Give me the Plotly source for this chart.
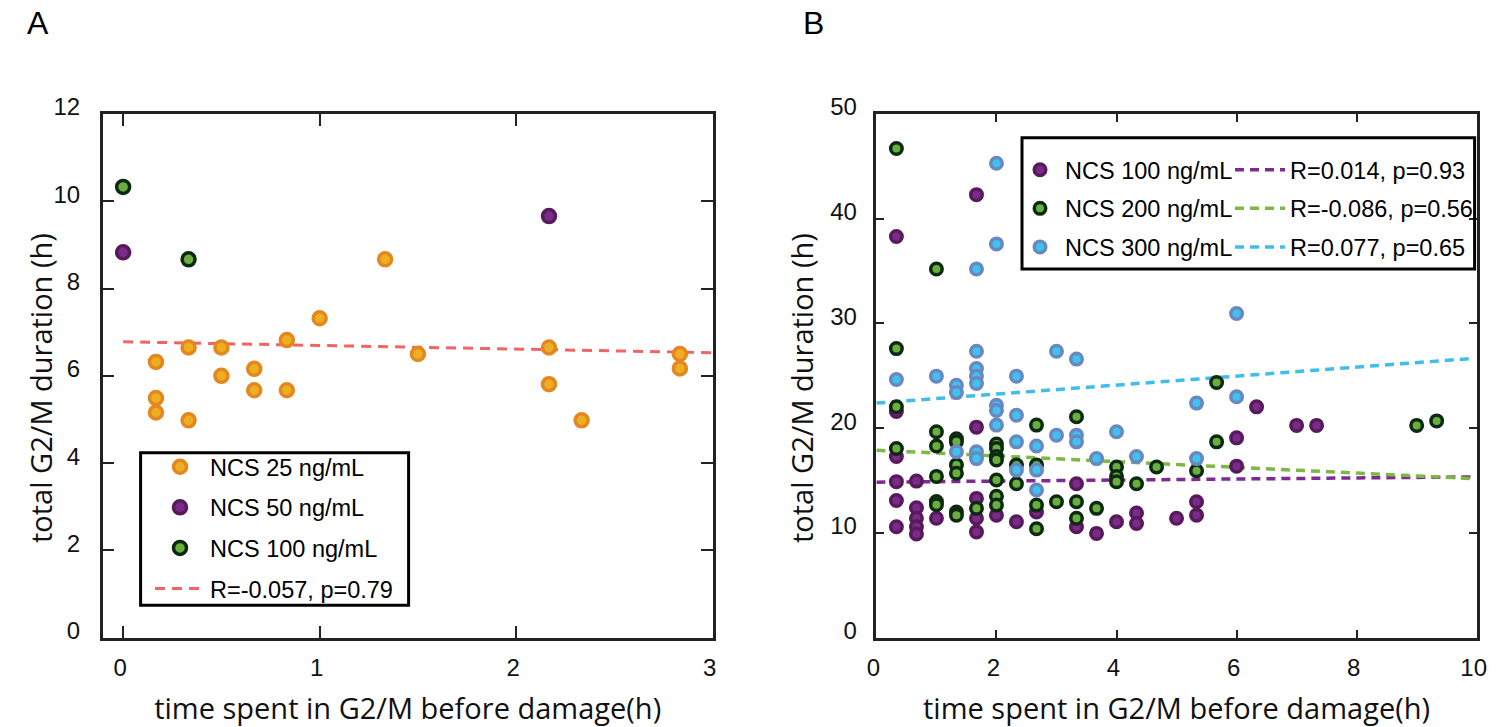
import plotly.graph_objects as go

W, H = 1499, 727

# ---------------- Panel A data ----------------
a25_x = [0.167, 0.167, 0.167, 0.333, 0.333, 0.5, 0.5, 0.667, 0.667, 0.833, 0.833,
         1.0, 1.333, 1.5, 2.167, 2.167, 2.333, 2.833, 2.833]
a25_y = [6.32, 5.49, 5.16, 6.65, 4.98, 6.65, 6.0, 6.16, 5.67, 6.82, 5.67,
         7.32, 8.67, 6.5, 6.65, 5.81, 4.98, 6.5, 6.17]
a50_x = [0.0, 2.167]
a50_y = [8.83, 9.66]
a100_x = [0.0, 0.333]
a100_y = [10.33, 8.67]
a_fit_x = [0.0, 3.0]
a_fit_y = [6.78, 6.53]

# ---------------- Panel B data ----------------
b100_x = [0.333, 1.667, 0.333, 0.333, 0.333, 0.333, 0.333,
          0.667, 0.667, 0.667, 0.667, 0.667, 1.0,
          1.667, 1.667, 1.667, 1.667, 2.0, 2.333, 2.667,
          3.333, 3.333, 3.667, 4.0, 4.333, 4.333, 5.0,
          5.333, 5.333, 6.0, 6.0, 6.333, 7.0, 7.333]
b100_y = [38.3, 42.3, 21.6, 17.3, 14.9, 13.1, 10.6,
          14.95, 12.4, 11.4, 10.6, 9.9, 11.4,
          20.1, 13.3, 11.4, 10.1, 11.7, 11.07, 12.0,
          14.7, 10.6, 9.96, 11.07, 11.9, 10.9, 11.4,
          12.98, 11.7, 19.08, 16.38, 22.04, 20.27, 20.27]

b200_x = [0.333, 1.0, 0.333, 0.333, 0.333,
          1.0, 1.0, 1.0, 1.0, 1.0,
          1.333, 1.333, 1.333, 1.333, 1.333, 1.333,
          1.667, 2.0, 2.0, 2.0, 2.0, 2.0, 2.0, 2.0,
          2.333, 2.333, 2.667, 2.667, 2.667, 2.667,
          3.0, 3.333, 3.333, 3.333, 3.667,
          4.0, 4.0, 4.0, 4.333, 4.667, 5.333,
          5.667, 5.667, 9.0, 9.333]
b200_y = [46.7, 35.2, 27.6, 22.05, 18.07,
          19.66, 18.3, 15.4, 13.0, 12.7,
          19.0, 18.7, 16.5, 15.7, 12.0, 11.7,
          12.35, 18.5, 18.07, 17.3, 16.96, 15.05, 13.5, 12.66,
          16.5, 14.7, 20.3, 16.5, 12.66, 10.4,
          12.98, 21.1, 12.98, 11.4, 12.35,
          16.3, 15.4, 14.9, 14.7, 16.3, 15.94,
          24.37, 18.7, 20.27, 20.7]

b300_x = [2.0, 2.0, 1.667, 6.0,
          1.667, 3.0, 3.333,
          0.333, 1.0, 1.333, 1.333, 1.667, 1.667, 1.667, 2.333,
          2.0, 2.0, 2.0, 2.333, 2.333, 2.333,
          1.333, 1.667, 1.667, 2.667, 2.667, 2.667,
          3.0, 3.333, 3.333, 3.667, 4.0, 4.333,
          5.333, 6.0, 5.333]
b300_y = [45.3, 37.6, 35.2, 30.95,
          27.35, 27.35, 26.6,
          24.65, 24.97, 24.1, 23.4, 25.7, 24.97, 24.27, 24.97,
          22.2, 21.7, 20.3, 21.25, 18.7, 16.0,
          17.75, 17.75, 17.1, 18.3, 16.0, 14.1,
          19.34, 19.34, 18.7, 17.1, 19.66, 17.3,
          22.4, 23.0, 17.1]

b_fit_x = [0.0, 9.9]
b100_fit_y = [14.85, 15.35]
b200_fit_y = [17.9, 15.2]
b300_fit_y = [22.4, 26.65]

# ---------------- styles ----------------
ORANGE = dict(fill="#ECAE22", edge="#E4871E")
PURPLE = dict(fill="#7A2A88", edge="#571A5A")
GREEN = dict(fill="#6AAE3E", edge="#0C2A12")
BLUE = dict(fill="#3EC2EE", edge="#6A88C0")

TICK_FONT = dict(family="Liberation Sans, Arial, sans-serif", size=24, color="#111")
TITLE_FONT = dict(family="Open Sans, sans-serif", size=29, color="#111")
LEG_FONT = dict(family="Liberation Sans, Arial, sans-serif", size=23.5, color="#000")


def dots(x, y, col, name, xa, ya, legend, size, lw, rank):
    return go.Scatter(
        x=x, y=y, mode="markers", name=name, xaxis=xa, yaxis=ya,
        legend=legend, legendgroup=name + legend, legendrank=rank,
        marker=dict(size=size, color=col["fill"], line=dict(color=col["edge"], width=lw)),
        hoverinfo="x+y",
    )


def fit(x, y, color, name, xa, ya, legend, dash, width, rank):
    return go.Scatter(
        x=x, y=y, mode="lines", name=name, xaxis=xa, yaxis=ya,
        legend=legend, legendgroup=name + legend, legendrank=rank,
        line=dict(color=color, width=width, dash=dash),
        hoverinfo="skip",
    )


fig = go.Figure()

# Panel A: fit line under the dots
fig.add_trace(fit(a_fit_x, a_fit_y, "#F26464", "R=-0.057, p=0.79", "x", "y",
                  "legend", "10px,7px", 3, 4))
fig.add_trace(dots(a25_x, a25_y, ORANGE, "NCS 25 ng/mL", "x", "y", "legend", 13, 3.5, 1))
fig.add_trace(dots(a50_x, a50_y, PURPLE, "NCS 50 ng/mL", "x", "y", "legend", 13, 3.5, 2))
fig.add_trace(dots(a100_x, a100_y, GREEN, "NCS 100 ng/mL", "x", "y", "legend", 13, 3.5, 3))

# Panel B
fig.add_trace(fit(b_fit_x, b100_fit_y, "#7E2A90", "R=0.014, p=0.93", "x2", "y2",
                  "legend3", "9px,6px", 3.5, 1))
fig.add_trace(fit(b_fit_x, b200_fit_y, "#7DB843", "R=-0.086, p=0.56", "x2", "y2",
                  "legend3", "9px,6px", 3.5, 2))
fig.add_trace(fit(b_fit_x, b300_fit_y, "#40BDEB", "R=0.077, p=0.65", "x2", "y2",
                  "legend3", "9px,6px", 3.5, 3))
fig.add_trace(dots(b100_x, b100_y, PURPLE, "NCS 100 ng/mL", "x2", "y2", "legend2", 11.5, 3.5, 1))
fig.add_trace(dots(b200_x, b200_y, GREEN, "NCS 200 ng/mL", "x2", "y2", "legend2", 11.5, 3.5, 2))
fig.add_trace(dots(b300_x, b300_y, BLUE, "NCS 300 ng/mL", "x2", "y2", "legend2", 11.5, 3.5, 3))


def px_x(p):
    return p / W


def px_y(p):
    return 1 - p / H


def axis(domain, rng, dtick, ticklen, standoff, shift, anchor, title=None):
    ax = dict(
        domain=domain, range=rng, dtick=dtick, tick0=0, ticks="inside", ticklen=ticklen,
        tickwidth=2, tickcolor="#222", showline=True, linecolor="#222", linewidth=2.5,
        mirror="ticks", showgrid=False, zeroline=False, tickfont=TICK_FONT,
        ticklabelstandoff=standoff, ticklabelshift=shift, anchor=anchor, automargin=False,
    )
    if title:
        ax["title"] = dict(text=title, font=TITLE_FONT, standoff=22)
    return ax


y_dom = [px_y(637.7), px_y(114)]
xtitle = "time spent in G2/M before damage(h)"
ytitle = "total G2/M duration (h)"


def ytitle_note(xpix):
    return dict(text=ytitle, x=px_x(xpix), y=px_y(388), xref="paper", yref="paper",
                xanchor="center", yanchor="middle", textangle=-90, showarrow=False,
                font=TITLE_FONT)


def panel_letter(letter, xpix):
    return dict(text=letter, x=px_x(xpix), y=px_y(23), xref="paper", yref="paper",
                xanchor="center", yanchor="middle", showarrow=False,
                font=dict(family="Liberation Sans, Arial", size=32, color="#000"))


fig.update_layout(
    width=W, height=H,
    margin=dict(l=0, r=0, t=0, b=0, pad=0, autoexpand=False),
    paper_bgcolor="white", plot_bgcolor="white",
    xaxis=axis([px_x(102.7), px_x(712.7)], [-0.104, 3.0], 1, 12, 7, -3, "y", xtitle),
    yaxis=axis(y_dom, [0, 12], 2, 12, 15, -7, "x"),
    xaxis2=axis([px_x(876.4), px_x(1476.7)], [0, 10], 2, 8, 7, -3, "y2", xtitle),
    yaxis2=axis(y_dom, [0, 50], 10, 8, 12, -7, "x2"),
    legend=dict(x=px_x(150), y=px_y(445), xanchor="left", yanchor="top",
                bgcolor="rgba(0,0,0,0)", borderwidth=0, font=LEG_FONT,
                traceorder="grouped", tracegroupgap=7, itemwidth=50),
    legend2=dict(x=px_x(1015), y=px_y(148), xanchor="left", yanchor="top",
                 bgcolor="rgba(0,0,0,0)", borderwidth=0, font=LEG_FONT,
                 traceorder="grouped", tracegroupgap=5, itemwidth=40),
    legend3=dict(x=px_x(1230), y=px_y(148), xanchor="left", yanchor="top",
                 bgcolor="rgba(0,0,0,0)", borderwidth=0, font=LEG_FONT,
                 traceorder="grouped", tracegroupgap=5, itemwidth=50),
    shapes=[
        dict(type="rect", xref="paper", yref="paper",
             x0=px_x(140.6), x1=px_x(408.6), y0=px_y(605.3), y1=px_y(452.7),
             line=dict(color="#000", width=3), fillcolor="rgba(0,0,0,0)", layer="above"),
        dict(type="rect", xref="paper", yref="paper",
             x0=px_x(1022), x1=px_x(1474.6), y0=px_y(269), y1=px_y(137.7),
             line=dict(color="#000", width=3), fillcolor="rgba(0,0,0,0)", layer="above"),
    ],
    annotations=[
        panel_letter("A", 38),
        panel_letter("B", 813),
        ytitle_note(40),
        ytitle_note(801),
    ],
)

fig.write_html("out.html")
